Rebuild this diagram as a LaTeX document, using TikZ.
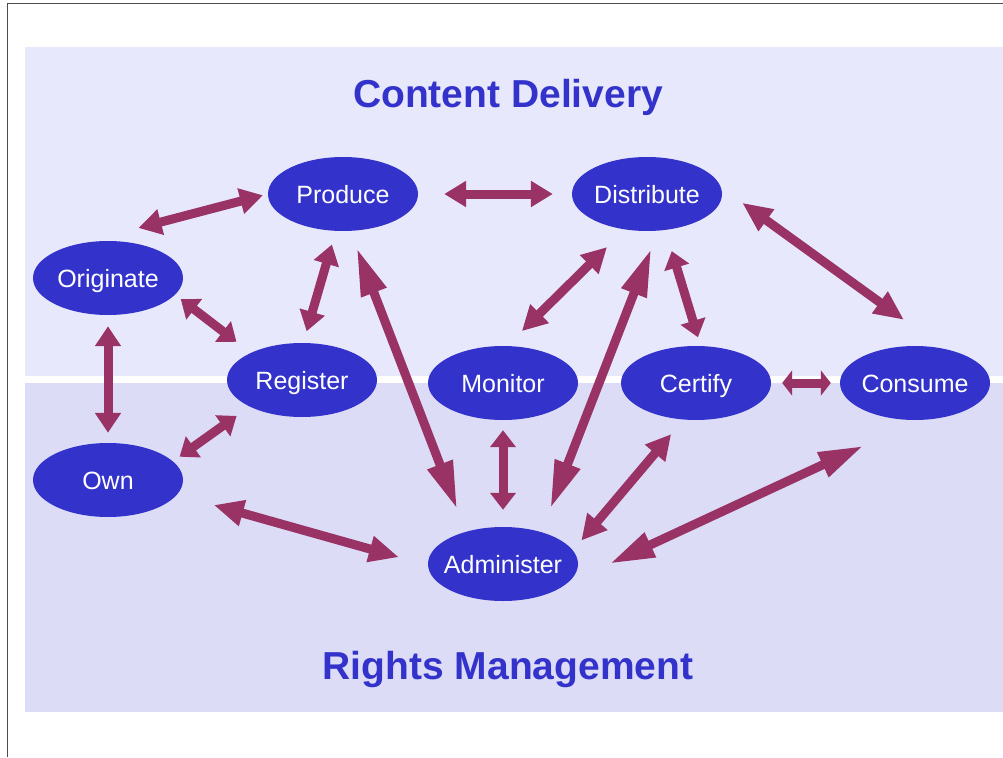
\documentclass[tikz,border=0pt]{standalone}
\usepackage{fontspec}
\setmainfont{Liberation Sans}
\usepackage{tikz}
\usetikzlibrary{arrows.meta,shapes.geometric,positioning}
\usepackage{xcolor}
\definecolor{myblue}{RGB}{51,51,204}
\definecolor{linkred}{RGB}{153,51,102}
\definecolor{topband}{RGB}{232,232,252}
\definecolor{lowband}{RGB}{220,220,247}

\begin{document}
\begin{tikzpicture}[x=1pt,y=-1pt,node distance=304pt]
  \tikzstyle{task}=[ellipse,fill=myblue,draw=none,text=white,inner xsep=-10pt,inner ysep=0pt,
    text height=18pt,text depth=0pt,
    minimum width=150pt,minimum height=74pt,font=\fontsize{25}{28}\selectfont]
  \tikzstyle{title}=[text=myblue,anchor=base,font=\fontsize{39}{42}\selectfont\bfseries]
  \tikzstyle{link}=[draw=linkred,line width=9pt,
    {Triangle[length=#1,width=25pt]}-{Triangle[length=#1,width=25pt]}]
  \tikzset{link/.default=20pt}

  \useasboundingbox (0,0) rectangle (1003,757);
  % bands
  \fill[topband] (25,47) rectangle (1003,376);
  \fill[lowband] (25,383) rectangle (1003,712);
  \draw[gray!60!black,line width=1pt] (7,757) -- (7,4) -- (1003,4);

  \node[title] (cd) at (508,108) {Content Delivery};
  \node[title] (rm) at (508,679) {Rights Management};

  \node[task] (Produce)    at (343,194) {Produce};
  \node[task] (Distribute) [right of=Produce] {Distribute};
  \node[task] (Originate)  at (108,278) {Originate};
  \node[task] (Register)   at (302,380) {Register};
  \node[task] (Monitor)    at (503,383) {Monitor};
  \node[task] (Certify)    at (696,383) {Certify};
  \node[task] (Consume)    at (915,383) {Consume};
  \node[task] (Own)        [below of=Originate,node distance=202pt] {Own};
  \node[task] (Administer) at (503,564) {Administer};

  \draw[link=23pt,shorten <=65pt,shorten >=5pt]  (Originate.134) -- (Produce.180);
  \draw[link=22pt,shorten <=26pt,shorten >=19pt] (Produce.0) -- (Distribute.180);
  \draw[link,shorten <=14pt,shorten >=12pt]      (Produce.259) -- (Register.88);
  \draw[link=48pt,shorten <=18pt,shorten >=24pt] (Produce.281) -- (Administer.139);
  \draw[link=17pt,shorten <=7pt,shorten >=18pt]  (Originate.346) -- (Register.152);
  \draw[link,shorten <=11pt,shorten >=10pt]      (Originate.270) -- (Own.90);
  \draw[link=17pt,shorten <=16pt,shorten >=8pt]  (Register.207) -- (Own.16);
  \draw[link=30pt,shorten <=38pt,shorten >=30pt] (Own.348) -- (Administer.181);
  \draw[link=25pt,shorten <=25pt,shorten >=21pt] (Distribute.238) -- (Monitor.84);
  \draw[link=48pt,shorten <=19pt,shorten >=25pt] (Distribute.287) -- (Administer.40);
  \draw[link=17pt,shorten <=22pt,shorten >=9pt]  (Distribute.297) -- (Certify.83);
  \draw[link=30pt,shorten <=26pt,shorten >=49pt] (Distribute.5) -- (Consume.50);
  \draw[link=17pt,shorten <=10pt,shorten >=17pt] (Monitor.270) -- (Administer.90);
  \draw[link=10pt,shorten <=11pt,shorten >=9pt]  (Certify.0) -- (Consume.180);
  \draw[link=25pt,shorten <=19pt,shorten >=13pt] (Certify.251) -- (Administer.11);
  \draw[link=45pt,shorten <=61pt,shorten >=47pt] (Consume.276) -- (Administer.343);
\end{tikzpicture}
\end{document}
